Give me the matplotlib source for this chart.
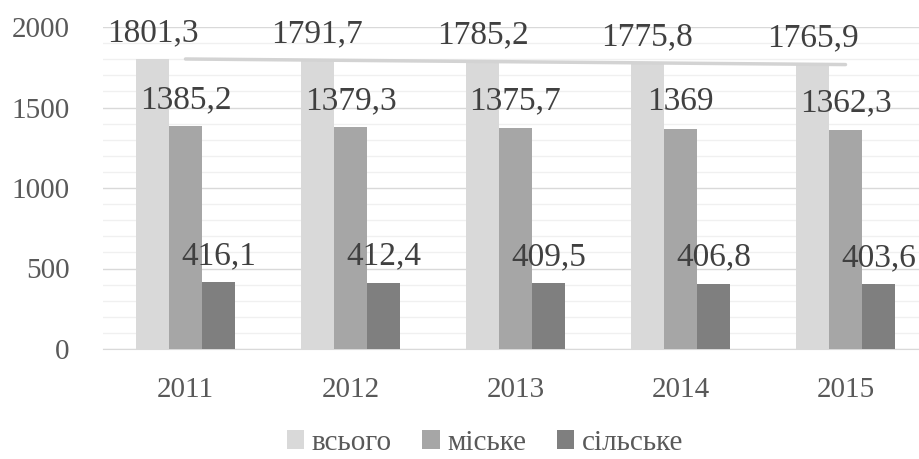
import matplotlib.pyplot as plt
from matplotlib.ticker import MultipleLocator
import numpy as np

plt.rcParams['font.family'] = 'serif'
plt.rcParams['font.serif'] = ['Liberation Serif', 'DejaVu Serif']

years = ['2011', '2012', '2013', '2014', '2015']
vsogo = [1801.3, 1791.7, 1785.2, 1775.8, 1765.9]
miske = [1385.2, 1379.3, 1375.7, 1369, 1362.3]
silske = [416.1, 412.4, 409.5, 406.8, 403.6]

series = [('всього', vsogo, '#d9d9d9'),
          ('міське', miske, '#a6a6a6'),
          ('сільське', silske, '#7f7f7f')]

fig = plt.figure(figsize=(9.19, 4.59), dpi=100)
ax = fig.add_axes([103/919, 1-349/459, 825/919, 322/459])

x = np.arange(len(years))
w = 0.2
for i, (name, vals, col) in enumerate(series):
    xs = x + (i-1)*w
    ax.bar(xs, vals, w, color=col, label=name, zorder=3)
    for xi, v in zip(xs, vals):
        lab = ('%g' % v).replace('.', ',')
        ax.annotate(lab, (xi, v), xytext=(0, 19), textcoords='offset points',
                    ha='center', va='center', fontsize=24, color='#404040', zorder=5)

# linear trend of всього
k, b = np.polyfit(x, vsogo, 1)
ax.plot(x, k*x+b, color='#d3d3d3', lw=2.5, zorder=4, solid_capstyle='round')

ax.set_xlim(-0.5, len(years)-0.5)
ax.set_ylim(0, 2000)
ax.yaxis.set_major_locator(MultipleLocator(500))
ax.yaxis.set_minor_locator(MultipleLocator(100))
ax.grid(which='major', axis='y', color='#d9d9d9', lw=1, zorder=0)
ax.grid(which='minor', axis='y', color='#f0f0f0', lw=1, zorder=0)
ax.set_xticks(x)
ax.set_xticklabels(years)
ax.tick_params(axis='both', which='both', length=0, labelsize=21, labelcolor='#595959')
ax.tick_params(axis='x', pad=20)
ax.tick_params(axis='y', pad=24)
for s in ['top', 'right', 'left']:
    ax.spines[s].set_visible(False)
ax.spines['bottom'].set_color('#d9d9d9')

fig.legend(loc='center', bbox_to_anchor=(485/919, 1-443/459), ncol=3, frameon=False,
           fontsize=21, handlelength=0.6, handleheight=0.6, handletextpad=0.25,
           columnspacing=1.05, labelcolor='#595959', borderpad=0.2)

fig.savefig('out.png', dpi=100)
